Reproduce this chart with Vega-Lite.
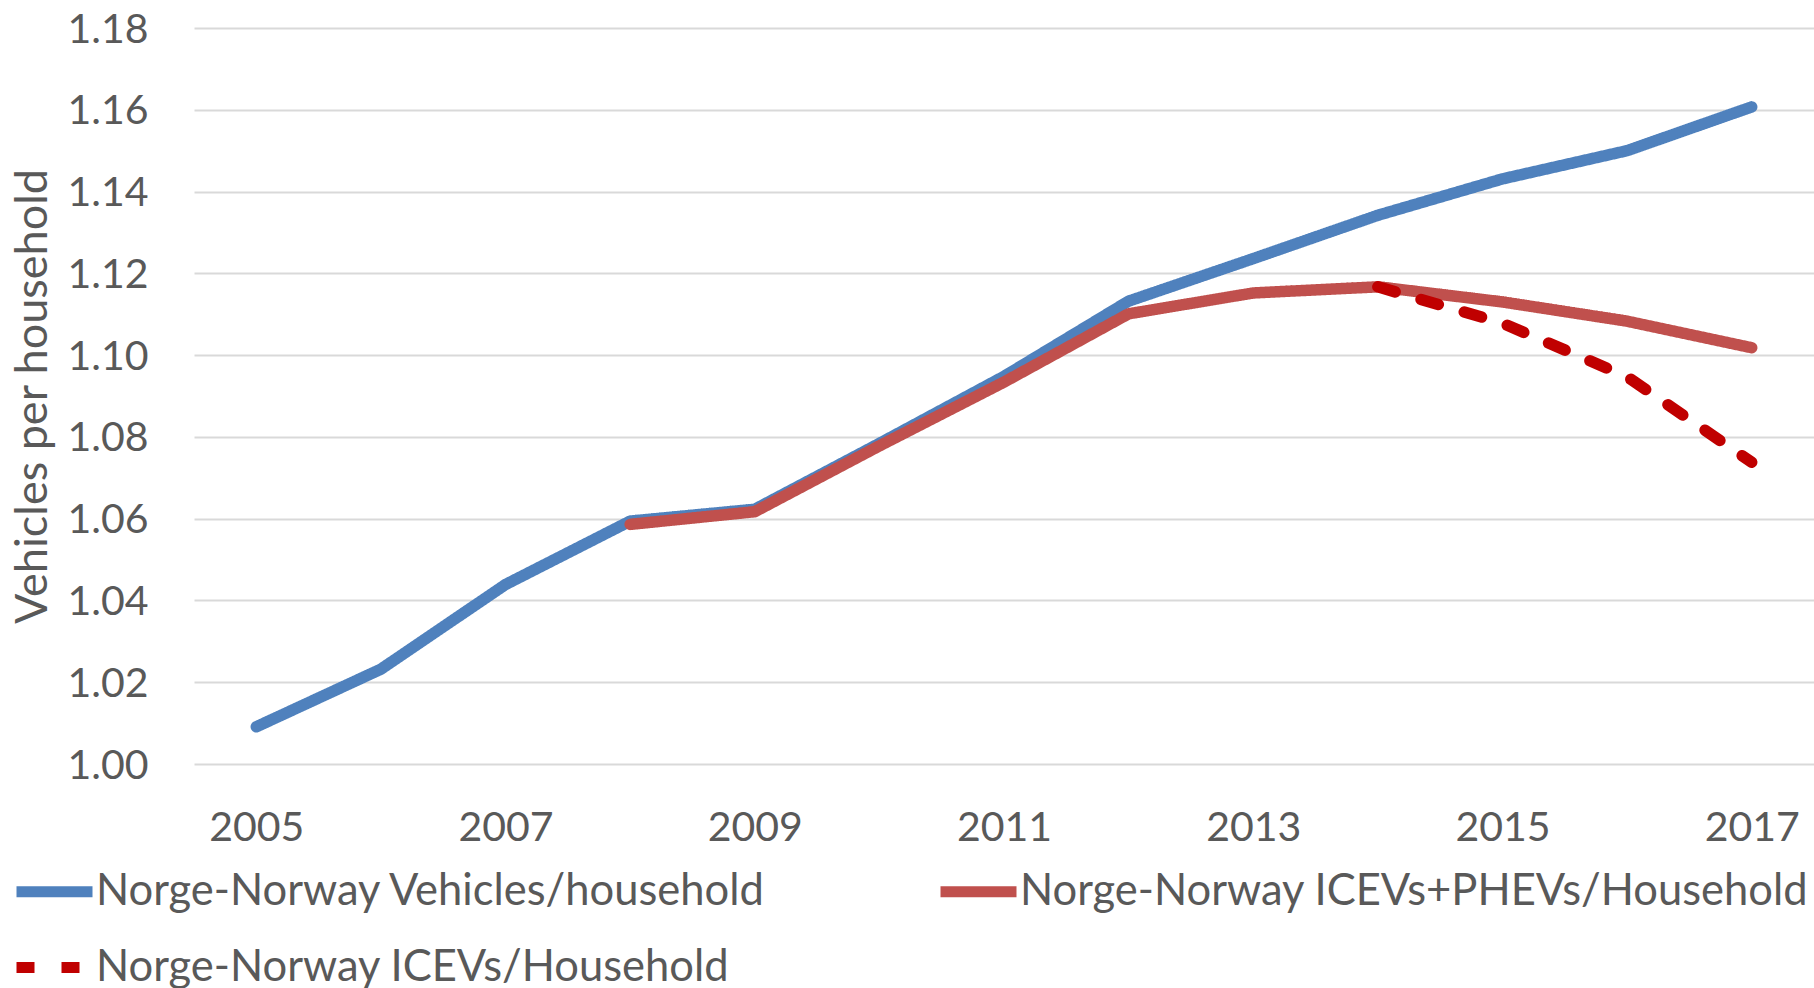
{
  "$schema": "https://vega.github.io/schema/vega-lite/v6.json",
  "width": 1620,
  "height": 736,
  "autosize": {"type": "none"},
  "padding": {"left": 194, "top": 28, "right": 0, "bottom": 224},
  "background": "white",
  "config": {"font": "Lato", "view": {"stroke": null}},
  "data": {
    "values": [
      {"year": 2005, "series": "Norge-Norway Vehicles/household", "value": 1.0091},
      {"year": 2006, "series": "Norge-Norway Vehicles/household", "value": 1.0232},
      {"year": 2007, "series": "Norge-Norway Vehicles/household", "value": 1.0439},
      {"year": 2008, "series": "Norge-Norway Vehicles/household", "value": 1.0594},
      {"year": 2009, "series": "Norge-Norway Vehicles/household", "value": 1.0623},
      {"year": 2010, "series": "Norge-Norway Vehicles/household", "value": 1.0784},
      {"year": 2011, "series": "Norge-Norway Vehicles/household", "value": 1.0948},
      {"year": 2012, "series": "Norge-Norway Vehicles/household", "value": 1.1132},
      {"year": 2013, "series": "Norge-Norway Vehicles/household", "value": 1.1236},
      {"year": 2014, "series": "Norge-Norway Vehicles/household", "value": 1.1342},
      {"year": 2015, "series": "Norge-Norway Vehicles/household", "value": 1.1431},
      {"year": 2016, "series": "Norge-Norway Vehicles/household", "value": 1.1500},
      {"year": 2017, "series": "Norge-Norway Vehicles/household", "value": 1.1607},
      {"year": 2008, "series": "Norge-Norway ICEVs+PHEVs/Household", "value": 1.0586},
      {"year": 2009, "series": "Norge-Norway ICEVs+PHEVs/Household", "value": 1.0617},
      {"year": 2010, "series": "Norge-Norway ICEVs+PHEVs/Household", "value": 1.0778},
      {"year": 2011, "series": "Norge-Norway ICEVs+PHEVs/Household", "value": 1.0934},
      {"year": 2012, "series": "Norge-Norway ICEVs+PHEVs/Household", "value": 1.1101},
      {"year": 2013, "series": "Norge-Norway ICEVs+PHEVs/Household", "value": 1.1152},
      {"year": 2014, "series": "Norge-Norway ICEVs+PHEVs/Household", "value": 1.1167},
      {"year": 2015, "series": "Norge-Norway ICEVs+PHEVs/Household", "value": 1.1130},
      {"year": 2016, "series": "Norge-Norway ICEVs+PHEVs/Household", "value": 1.1083},
      {"year": 2017, "series": "Norge-Norway ICEVs+PHEVs/Household", "value": 1.1018},
      {"year": 2014, "series": "Norge-Norway ICEVs/Household", "value": 1.1167},
      {"year": 2015, "series": "Norge-Norway ICEVs/Household", "value": 1.1078},
      {"year": 2016, "series": "Norge-Norway ICEVs/Household", "value": 1.0947},
      {"year": 2017, "series": "Norge-Norway ICEVs/Household", "value": 1.0738}
    ]
  },
  "mark": {"type": "line", "strokeWidth": 11.5, "strokeCap": "round", "strokeJoin": "round"},
  "encoding": {
    "x": {
      "field": "year",
      "type": "quantitative",
      "scale": {"domain": [2004.5, 2017.5], "nice": false, "zero": false},
      "axis": {
        "values": [2005, 2007, 2009, 2011, 2013, 2015, 2017],
        "format": "d",
        "title": null,
        "grid": false,
        "domain": false,
        "ticks": false,
        "tickSize": 0,
        "labelPadding": 76,
        "labelBaseline": "alphabetic",
        "labelFont": "Lato",
        "labelFontSize": 41,
        "labelColor": "#595959",
        "labelFlush": false,
        "labelOverlap": false
      }
    },
    "y": {
      "field": "value",
      "type": "quantitative",
      "scale": {"domain": [1.0, 1.18], "nice": false, "zero": false},
      "axis": {
        "values": [1.0, 1.02, 1.04, 1.06, 1.08, 1.1, 1.12, 1.14, 1.16, 1.18],
        "format": ".2f",
        "title": "Vehicles per household",
        "titleFont": "Lato",
        "titleFontSize": 45,
        "titleFontWeight": "normal",
        "titleColor": "#595959",
        "titleAngle": -90,
        "titleX": -162,
        "titleY": 368,
        "titleAlign": "center",
        "titleBaseline": "middle",
        "grid": true,
        "gridColor": "#D9D9D9",
        "gridWidth": 2,
        "domain": false,
        "ticks": false,
        "tickSize": 0,
        "labelPadding": 46,
        "labelOffset": 14,
        "labelBaseline": "alphabetic",
        "labelFont": "Lato",
        "labelFontSize": 41,
        "labelColor": "#595959",
        "labelFlush": false,
        "labelOverlap": false
      }
    },
    "color": {
      "field": "series",
      "type": "nominal",
      "scale": {
        "domain": ["Norge-Norway Vehicles/household", "Norge-Norway ICEVs+PHEVs/Household", "Norge-Norway ICEVs/Household"],
        "range": ["#4F81BD", "#C0504D", "#C00000"]
      },
      "legend": {
        "title": null,
        "orient": "none",
        "legendX": -183,
        "legendY": 820,
        "columns": 2,
        "direction": "horizontal",
        "symbolType": "stroke",
        "symbolSize": 5776,
        "symbolStrokeWidth": 11,
        "labelFont": "Lato",
        "labelFontSize": 43.5,
        "labelColor": "#595959",
        "labelOffset": -2,
        "labelLimit": 1200,
        "columnPadding": 151,
        "rowPadding": 10,
        "padding": 0
      }
    },
    "strokeDash": {
      "field": "series",
      "type": "nominal",
      "scale": {
        "domain": ["Norge-Norway Vehicles/household", "Norge-Norway ICEVs+PHEVs/Household", "Norge-Norway ICEVs/Household"],
        "range": [[1, 0], [1, 0], [18, 27]]
      }
    }
  }
}
